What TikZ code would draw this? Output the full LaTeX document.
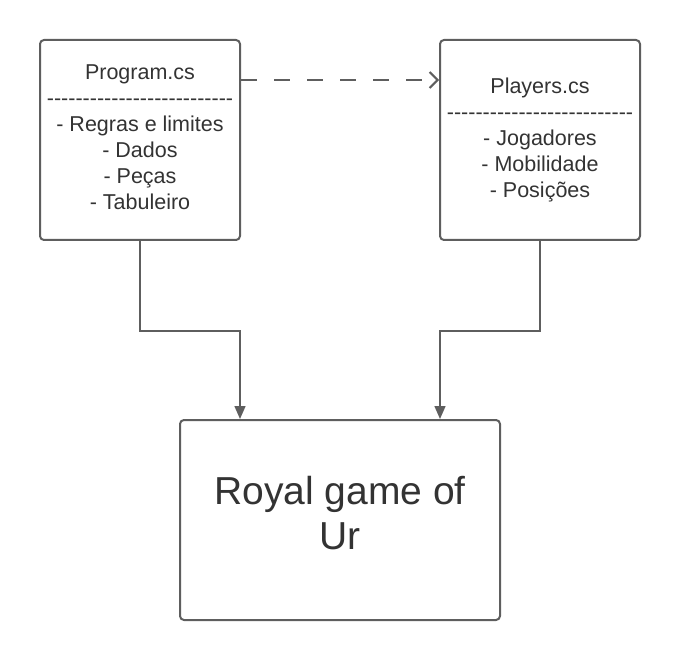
\documentclass[tikz,border=0pt]{standalone}
\usepackage{fontspec}
\setmainfont{Liberation Sans}[Ligatures=TeXOff]
\usetikzlibrary{arrows.meta}
\definecolor{linegray}{HTML}{5E5E5E}
\definecolor{textgray}{HTML}{333333}
\begin{document}
\begin{tikzpicture}[x=1pt,y=1pt]
  \tikzstyle{box}=[draw=linegray, line width=2pt, rounded corners=4pt, fill=white,
    text=textgray, align=center, inner sep=0pt]
  \tikzstyle{small}=[box, minimum width=200pt, minimum height=200pt,
    font=\fontsize{21.5}{26}\selectfont, text depth=5pt]
  \tikzstyle{conn}=[draw=linegray, line width=1.5pt, -{Triangle[length=13pt,width=11pt]}]

  \useasboundingbox (0,0) rectangle (680,-660);

  \node[small] (prog) at (140, -140)
    {Program.cs\\--------------------------\\- Regras e limites\\- Dados\\- Peças\\- Tabuleiro};
  \node[small] (players) at (540, -140)
    {Players.cs\\--------------------------\\- Jogadores\\- Mobilidade\\- Posições};
  \node[box, minimum width=320pt, minimum height=200pt, text depth=15pt,
    font=\fontsize{39}{45}\selectfont] (ur) at (340, -520) {Royal game of\\Ur};

  \draw[draw=linegray, line width=2pt, dash pattern=on 16pt off 17pt,
    -{Straight Barb[length=8pt,width=16pt]}] (prog.east |- 0,-80) -- (players.west |- 0,-80);
  \draw[conn] (prog.south) -- ++(0,-90) -| ([xshift=-100pt]ur.north);
  \draw[conn] (players.south) -- ++(0,-90) -| ([xshift=100pt]ur.north);

\end{tikzpicture}
\end{document}
